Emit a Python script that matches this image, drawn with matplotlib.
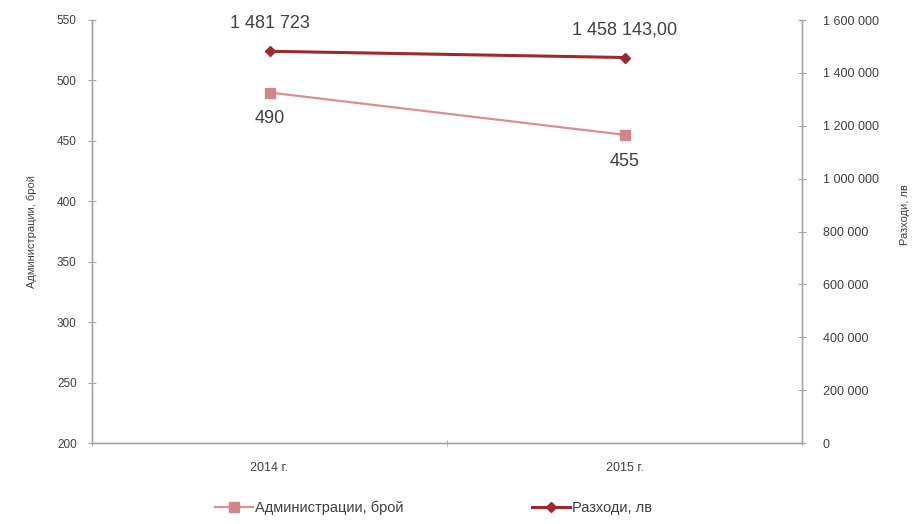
import matplotlib
matplotlib.use("Agg")
import matplotlib.pyplot as plt
from matplotlib.ticker import FuncFormatter, FixedLocator

categories = ["2014 г.", "2015 г."]
admin_count = [490, 455]
expenses = [1481723, 1458143.00]
admin_labels = ["490", "455"]
expense_labels = ["1 481 723", "1 458 143,00"]
series_names = ["Администрации, брой", "Разходи, лв"]
left_label = "Администрации, брой"
right_label = "Разходи, лв"

plt.rcParams['font.family'] = ['Liberation Sans', 'DejaVu Sans']

c_admin = "#d98e92"
c_admin_m = "#d0868a"
c_exp = "#a0282f"
axis_c = "#a6a6a6"
txt_c = "#404040"

fig = plt.figure(figsize=(9.19, 5.24), dpi=100)
ax = fig.add_axes([92/919, 1-443/524, (802-92)/919, (443-20)/524])
ax2 = ax.twinx()

x = list(range(len(categories)))
l1, = ax.plot(x, admin_count, color=c_admin, lw=1.6, marker='s', ms=7,
              markerfacecolor=c_admin_m, markeredgecolor=c_admin_m, label=series_names[0])
l2, = ax2.plot(x, expenses, color=c_exp, lw=2.2, marker='D', ms=5,
               markerfacecolor=c_exp, markeredgecolor=c_exp, label=series_names[1])

ax.set_xlim(-0.5, len(categories) - 0.5)
ax.set_ylim(200, 550)
ax2.set_ylim(0, 1600000)
ax.set_yticks(range(200, 551, 50))
ax2.set_yticks(range(0, 1600001, 200000))
ax2.yaxis.set_major_formatter(FuncFormatter(lambda v, p: f"{int(v):,}".replace(",", " ")))

ax.set_xticks(x)
ax.set_xticklabels(categories)
ax.xaxis.set_minor_locator(FixedLocator([i - 0.5 for i in range(len(categories) + 1)]))
ax.tick_params(axis='x', which='major', length=0, pad=14, labelsize=9, labelcolor=txt_c)
ax.tick_params(axis='x', which='minor', length=5, direction='inout', color=axis_c)
ax.tick_params(axis='y', length=6, direction='inout', color=axis_c, labelsize=8.5, labelcolor=txt_c, pad=8)
ax2.tick_params(axis='y', length=6, direction='inout', color=axis_c, labelsize=9, labelcolor=txt_c, pad=12)

for a in (ax, ax2):
    a.spines['top'].set_visible(False)
    for s in ('left', 'right', 'bottom'):
        a.spines[s].set_color(axis_c)
        a.spines[s].set_linewidth(1.0)

ax.set_ylabel(left_label, fontsize=8, color=txt_c, labelpad=14)
ax2.set_ylabel(right_label, fontsize=8, color=txt_c, rotation=90, labelpad=14)
ax2.yaxis.set_label_coords(1.138, 0.54)

for xi, v, t in zip(x, admin_count, admin_labels):
    ax.annotate(t, (xi, v), xytext=(0, -19), textcoords='offset points',
                ha='center', va='center', fontsize=13, color=txt_c)
for xi, v, t in zip(x, expenses, expense_labels):
    ax2.annotate(t, (xi, v), xytext=(0, 20), textcoords='offset points',
                 ha='center', va='center', fontsize=13, color=txt_c)

fig.legend(handles=[l1, l2], loc='center', bbox_to_anchor=(0.472, 1-508/524), ncol=2,
           frameon=False, fontsize=10.5, columnspacing=8.8, handlelength=2.6,
           handletextpad=0.15, labelcolor=txt_c)

fig.savefig("out.png", dpi=100)
